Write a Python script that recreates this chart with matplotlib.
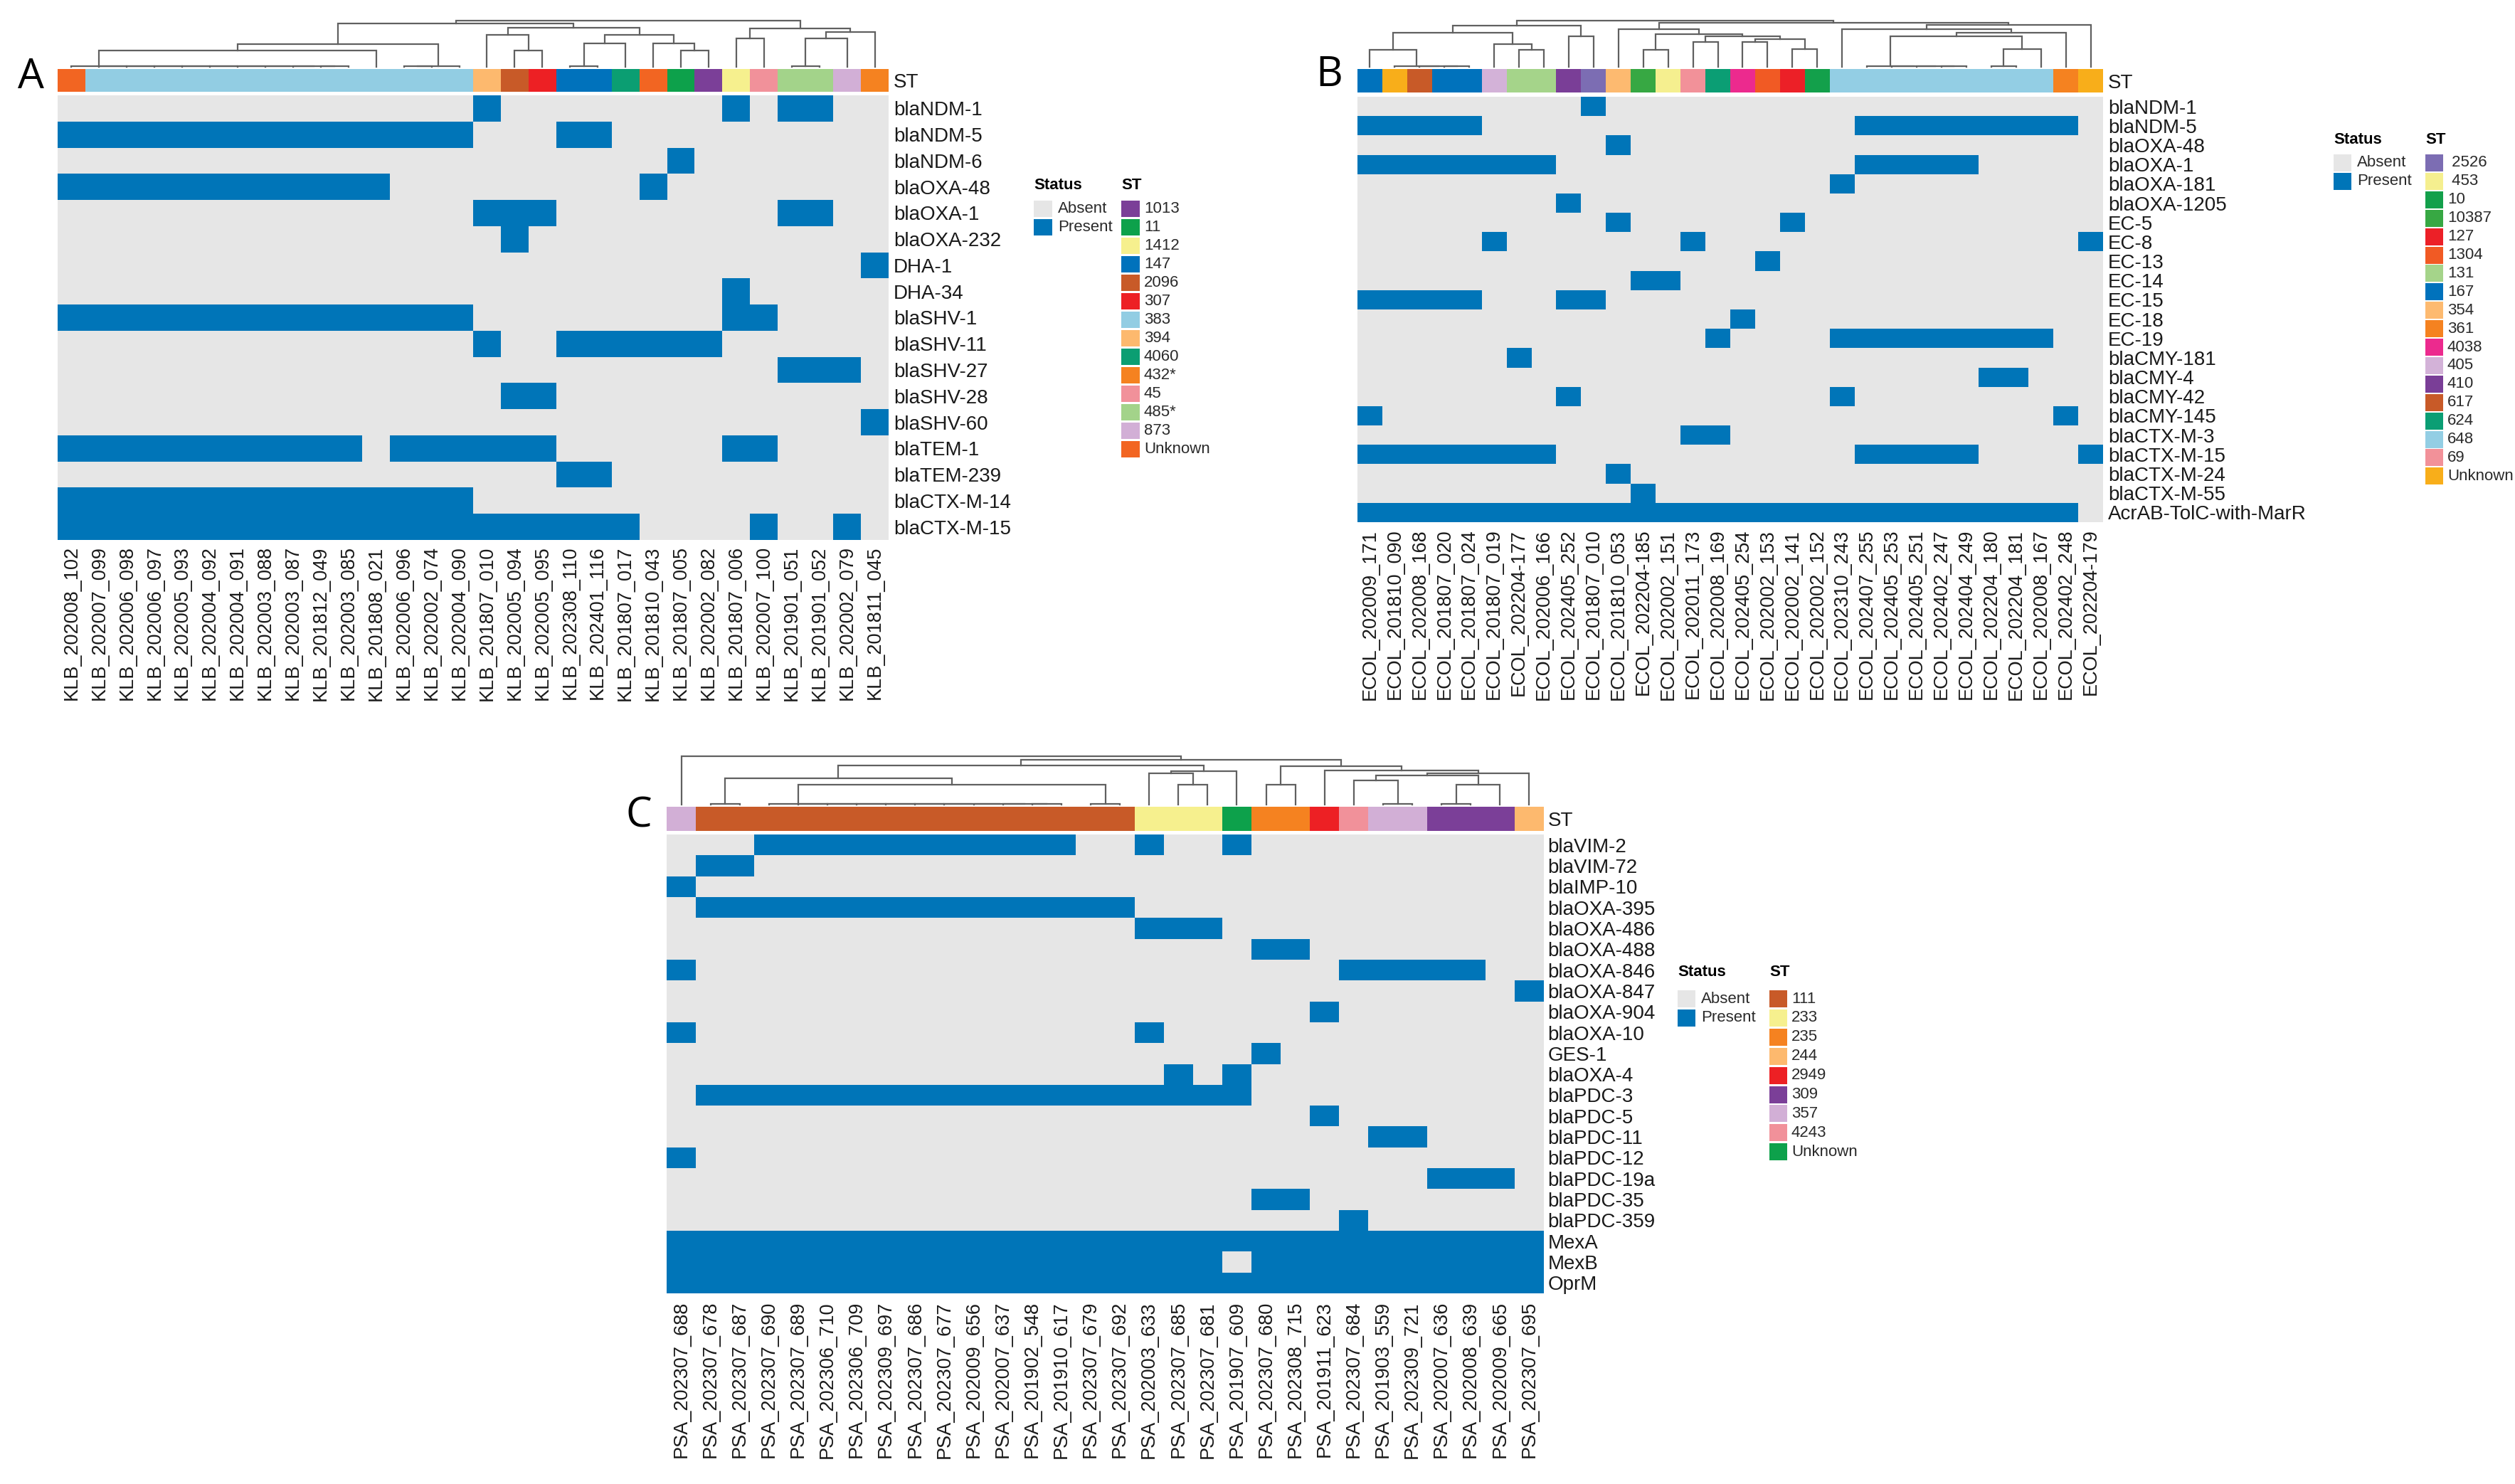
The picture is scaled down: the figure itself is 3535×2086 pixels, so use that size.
import matplotlib
matplotlib.use('Agg')
import matplotlib.pyplot as plt
from matplotlib.colors import ListedColormap
from matplotlib.patches import Rectangle
import numpy as np

plt.rcParams['font.family'] = ['Liberation Sans', 'DejaVu Sans']

W, H = 3535, 2086
ABSENT = '#e6e6e6'
PRESENT = '#0075b8'
TREE_COLOR = '#606060'
z = 0.02  # merges that sit almost on the ST bar

# ---------------- panel A (Klebsiella) ----------------
samples_a = ['KLB_202008_102', 'KLB_202007_099', 'KLB_202006_098', 'KLB_202006_097', 'KLB_202005_093',
             'KLB_202004_092', 'KLB_202004_091', 'KLB_202003_088', 'KLB_202003_087', 'KLB_201812_049',
             'KLB_202003_085', 'KLB_201808_021', 'KLB_202006_096', 'KLB_202002_074', 'KLB_202004_090',
             'KLB_201807_010', 'KLB_202005_094', 'KLB_202005_095', 'KLB_202308_110', 'KLB_202401_116',
             'KLB_201807_017', 'KLB_201810_043', 'KLB_201807_005', 'KLB_202002_082', 'KLB_201807_006',
             'KLB_202007_100', 'KLB_201901_051', 'KLB_201901_052', 'KLB_202002_079', 'KLB_201811_045']
genes_a = ['blaNDM-1', 'blaNDM-5', 'blaNDM-6', 'blaOXA-48', 'blaOXA-1', 'blaOXA-232', 'DHA-1', 'DHA-34',
           'blaSHV-1', 'blaSHV-11', 'blaSHV-27', 'blaSHV-28', 'blaSHV-60', 'blaTEM-1', 'blaTEM-239',
           'blaCTX-M-14', 'blaCTX-M-15']
# columns (0-based) where the gene is present
present_a = ['15,24,26-27', '0-14,18-19', '22', '0-11,21', '15-17,26-27', '16', '29', '24',
             '0-14,24-25', '15,18-23', '26-28', '16-17', '29', '0-10,12-17,24-25', '18-19',
             '0-14', '0-20,25,28']
st_a = ['Unknown'] + ['383'] * 14 + ['394', '2096', '307', '147', '147', '4060', 'Unknown', '11', '1013',
                                     '1412', '45', '485*', '485*', '873', '432*']
st_levels_a = ['1013', '11', '1412', '147', '2096', '307', '383', '394', '4060', '432*', '45', '485*',
               '873', 'Unknown']
st_colors_a = ['#7b3f98', '#0da14b', '#f6f08e', '#0072bc', '#c85a28', '#ed2024', '#92cde3', '#fdb96e',
               '#0b9e72', '#f58220', '#f1919a', '#a3d38a', '#d2afd6', '#f26522']
tree_a = (1.0,
          (0.94,
           (0.49,
            (0.36, (z, 0, (z, 1, (z, 2, (z, 3, (z, 4, (z, 5, (z, 6, (z, 7, (z, 8, (z, 9, 10)))))))))), 11),
            (z, (z, 12, 13), 14)),
           (0.85,
            (0.69, 15, (0.36, 16, 17)),
            (0.69, (0.51, (z, 18, 19), 20), (0.51, 21, (0.36, 22, 23))))),
          (0.83, (0.62, 24, 25), (0.76, (0.62, (z, 26, 27), 28), 29)))

# ---------------- panel B (E. coli) ----------------
samples_b = ['ECOL_202009_171', 'ECOL_201810_090', 'ECOL_202008_168', 'ECOL_201807_020', 'ECOL_201807_024',
             'ECOL_201807_019', 'ECOL_202204-177', 'ECOL_202006_166', 'ECOL_202405_252', 'ECOL_201807_010',
             'ECOL_201810_053', 'ECOL_202204-185', 'ECOL_202002_151', 'ECOL_202011_173', 'ECOL_202008_169',
             'ECOL_202405_254', 'ECOL_202002_153', 'ECOL_202002_141', 'ECOL_202002_152', 'ECOL_202310_243',
             'ECOL_202407_255', 'ECOL_202405_253', 'ECOL_202405_251', 'ECOL_202402_247', 'ECOL_202404_249',
             'ECOL_202204_180', 'ECOL_202204_181', 'ECOL_202008_167', 'ECOL_202402_248', 'ECOL_202204-179']
genes_b = ['blaNDM-1', 'blaNDM-5', 'blaOXA-48', 'blaOXA-1', 'blaOXA-181', 'blaOXA-1205', 'EC-5', 'EC-8',
           'EC-13', 'EC-14', 'EC-15', 'EC-18', 'EC-19', 'blaCMY-181', 'blaCMY-4', 'blaCMY-42', 'blaCMY-145',
           'blaCTX-M-3', 'blaCTX-M-15', 'blaCTX-M-24', 'blaCTX-M-55', 'AcrAB-TolC-with-MarR']
present_b = ['9', '0-4,20-28', '10', '0-7,20-24', '19', '8', '10,17', '5,13,29', '16', '11-12', '0-4,8-9',
             '15', '14,19-27', '6', '25-26', '8,19', '0,28', '13-14', '0-7,20-24,29', '10', '11', '0-28']
st_b = ['167', 'Unknown', '617', '167', '167', '405', '131', '131', '410', '2526', '354', '10387', '453',
        '69', '624', '4038', '1304', '127', '10'] + ['648'] * 9 + ['361', 'Unknown']
st_levels_b = ['2526', '453', '10', '10387', '127', '1304', '131', '167', '354', '361', '4038', '405', '410',
               '617', '624', '648', '69', 'Unknown']
st_legend_b = [' 2526', ' 453', '10', '10387', '127', '1304', '131', '167', '354', '361', '4038', '405',
               '410', '617', '624', '648', '69', 'Unknown']
st_colors_b = ['#7c6db3', '#f5ef8f', '#13a04b', '#37a843', '#ec2027', '#f15a24', '#a5d48a', '#0072bc',
               '#fdba70', '#f58220', '#ec2a8e', '#d3b2d8', '#7a3e97', '#c85a28', '#0b9e74', '#93cee4',
               '#f29199', '#f8ae1a']
tree_b = (1.0,
          (0.89,
           (0.74, (0.37, 0, (z, 1, (z, 2, (z, 3, 4)))), (0.5, 5, (0.37, 6, 7))),
           (0.66, 8, 9)),
          (0.95,
           (0.82, 10,
            (0.71, (0.37, 11, 12),
             (0.66, (0.54, 13, 14), (0.6, (0.54, 15, 16), (0.39, 17, 18))))),
           (0.91,
            (0.82, 19,
             (0.74, (0.66, (z, 20, (z, 21, (z, 22, (z, 23, 24)))), (0.39, (z, 25, 26), 27)), 28)),
            29)))

# ---------------- panel C (P. aeruginosa) ----------------
samples_c = ['PSA_202307_688', 'PSA_202307_678', 'PSA_202307_687', 'PSA_202307_690', 'PSA_202307_689',
             'PSA_202306_710', 'PSA_202306_709', 'PSA_202309_697', 'PSA_202307_686', 'PSA_202307_677',
             'PSA_202009_656', 'PSA_202007_637', 'PSA_201902_548', 'PSA_201910_617', 'PSA_202307_679',
             'PSA_202307_692', 'PSA_202003_633', 'PSA_202307_685', 'PSA_202307_681', 'PSA_201907_609',
             'PSA_202307_680', 'PSA_202308_715', 'PSA_201911_623', 'PSA_202307_684', 'PSA_201903_559',
             'PSA_202309_721', 'PSA_202007_636', 'PSA_202008_639', 'PSA_202009_665', 'PSA_202307_695']
genes_c = ['blaVIM-2', 'blaVIM-72', 'blaIMP-10', 'blaOXA-395', 'blaOXA-486', 'blaOXA-488', 'blaOXA-846',
           'blaOXA-847', 'blaOXA-904', 'blaOXA-10', 'GES-1', 'blaOXA-4', 'blaPDC-3', 'blaPDC-5', 'blaPDC-11',
           'blaPDC-12', 'blaPDC-19a', 'blaPDC-35', 'blaPDC-359', 'MexA', 'MexB', 'OprM']
present_c = ['3-13,16,19', '1-2', '0', '1-15', '16-18', '20-21', '0,23-27', '29', '22', '0,16', '20',
             '17,19', '1-19', '22', '24-25', '0', '26-28', '20-21', '23', '0-29', '0-18,20-29', '0-29']
st_c = ['357'] + ['111'] * 15 + ['233', '233', '233', 'Unknown', '235', '235', '2949', '4243', '357', '357',
                                 '309', '309', '309', '244']
st_levels_c = ['111', '233', '235', '244', '2949', '309', '357', '4243', 'Unknown']
st_colors_c = ['#c85a28', '#f6f08e', '#f58220', '#fdb96e', '#ed2024', '#7b3f98', '#d2afd6', '#f1919a',
               '#0da14b']
tree_c = (1.0, 0,
          (0.93,
           (0.81,
            (0.54, (z, 1, 2),
             (0.41, (z, 3, (z, 4, (z, 5, (z, 6, (z, 7, (z, 8, (z, 9, (z, 10, (z, 11, (z, 12, 13)))))))))),
              (z, 14, 15))),
            (0.69, (0.64, 16, (0.41, 17, 18)), 19)),
           (0.79, (0.41, 20, 21),
            (0.71, 22, (0.64, (0.61, (0.5, 23, (z, 24, 25)), (0.41, (z, 26, 27), 28)), 29)))))


def to_matrix(spec, n):
    m = np.zeros((len(spec), n))
    for i, s in enumerate(spec):
        for part in s.split(','):
            if '-' in part:
                a, b = part.split('-')
                m[i, int(a):int(b) + 1] = 1
            else:
                m[i, int(part)] = 1
    return m


def draw_tree(ax, node):
    if isinstance(node, int):
        return node + 0.5, 0.0
    h, left, right = node
    xl, hl = draw_tree(ax, left)
    xr, hr = draw_tree(ax, right)
    ax.plot([xl, xl, xr, xr], [hl, h, h, hr], color=TREE_COLOR, lw=1.6, clip_on=False,
            solid_joinstyle='miter')
    return (xl + xr) / 2, h


def rect(x0, y0, x1, y1):
    return [x0 / W, 1 - y1 / H, (x1 - x0) / W, (y1 - y0) / H]


fig = plt.figure(figsize=(W / 100, H / 100), dpi=100)


def panel(samples, genes, present, st, levels, colors, tree, x0, x1, y_tree, y_st0, y_st1, y_hm0, y_hm1,
          row_pad, col_pad):
    n = len(samples)
    # dendrogram
    ax_t = fig.add_axes(rect(x0, y_tree, x1, y_st0 - 3))
    draw_tree(ax_t, tree)
    ax_t.set_xlim(0, n)
    ax_t.set_ylim(0, 1)
    ax_t.axis('off')
    # ST colour bar
    ax_s = fig.add_axes(rect(x0, y_st0, x1, y_st1))
    idx = np.array([[levels.index(s) for s in st]])
    ax_s.pcolormesh(idx, cmap=ListedColormap(colors), vmin=-0.5, vmax=len(levels) - 0.5)
    ax_s.set_xlim(0, n)
    ax_s.set_ylim(0, 1)
    ax_s.set_xticks([])
    ax_s.yaxis.tick_right()
    ax_s.set_yticks([0.5])
    ax_s.set_yticklabels(['ST'], fontsize=20, color='#1a1a1a')
    ax_s.tick_params(length=0, pad=row_pad)
    for sp in ax_s.spines.values():
        sp.set_visible(False)
    # presence / absence heatmap
    ax_h = fig.add_axes(rect(x0, y_hm0, x1, y_hm1))
    m = to_matrix(present, n)
    ax_h.pcolormesh(m, cmap=ListedColormap([ABSENT, PRESENT]), vmin=0, vmax=1)
    ax_h.set_xlim(0, n)
    ax_h.set_ylim(len(genes), 0)
    ax_h.yaxis.tick_right()
    ax_h.set_yticks(np.arange(len(genes)) + 0.5)
    ax_h.set_yticklabels(genes, fontsize=20, color='#1a1a1a')
    ax_h.set_xticks(np.arange(n) + 0.5)
    ax_h.set_xticklabels(samples, rotation=90, fontsize=19.5, color='#1a1a1a')
    ax_h.tick_params(axis='y', length=0, pad=row_pad)
    ax_h.tick_params(axis='x', length=0, pad=col_pad)
    for sp in ax_h.spines.values():
        sp.set_visible(False)


panel(samples_a, genes_a, present_a, st_a, st_levels_a, st_colors_a, tree_a,
      81, 1249, 29, 97, 129, 134, 759, 5, 6)
panel(samples_b, genes_b, present_b, st_b, st_levels_b, st_colors_b, tree_b,
      1908, 2956, 29, 97, 130, 136, 734, 5, 7)
panel(samples_c, genes_c, present_c, st_c, st_levels_c, st_colors_c, tree_c,
      937, 2170, 1063, 1134, 1168, 1173, 1818, 4, 8)

# overlay in pixel units for panel letters and legends
ov = fig.add_axes([0, 0, 1, 1], zorder=-1)
ov.set_xlim(0, W)
ov.set_ylim(H, 0)
ov.axis('off')

for letter, (lx, ly) in zip(['A', 'B', 'C'], [(43, 109), (1868, 106), (898, 1147)]):
    ov.text(lx, ly, letter, fontsize=42, family='Open Sans', ha='center', va='center', color='black')


def legend(x_status, x_st, y_title, y_first, step, sq_w, sq_h, labels, colors):
    ov.text(x_status, y_title, 'Status', fontsize=16, fontweight='bold', ha='left', va='center')
    ov.text(x_st, y_title, 'ST', fontsize=16, fontweight='bold', ha='left', va='center')
    for i, (lab, col) in enumerate(zip(['Absent', 'Present'], [ABSENT, PRESENT])):
        y = y_first + i * step
        ov.add_patch(Rectangle((x_status, y), sq_w, sq_h, color=col, lw=0))
        ov.text(x_status + sq_w + 8, y + sq_h / 2, lab, fontsize=16, color='#2a2a2a', ha='left', va='center')
    for i, (lab, col) in enumerate(zip(labels, colors)):
        y = y_first + i * step
        ov.add_patch(Rectangle((x_st, y), sq_w, sq_h, color=col, lw=0))
        ov.text(x_st + sq_w + 6, y + sq_h / 2, lab, fontsize=16, color='#2a2a2a', ha='left', va='center')


legend(1453, 1576, 261, 282, 26.0, 26, 23, st_levels_a, st_colors_a)
legend(3280, 3409, 196, 217, 25.9, 25, 24, st_legend_b, st_colors_b)
legend(2358, 2487, 1367, 1392, 26.9, 25, 24, st_levels_c, st_colors_c)

fig.savefig('out.png', dpi=100, facecolor='white')
